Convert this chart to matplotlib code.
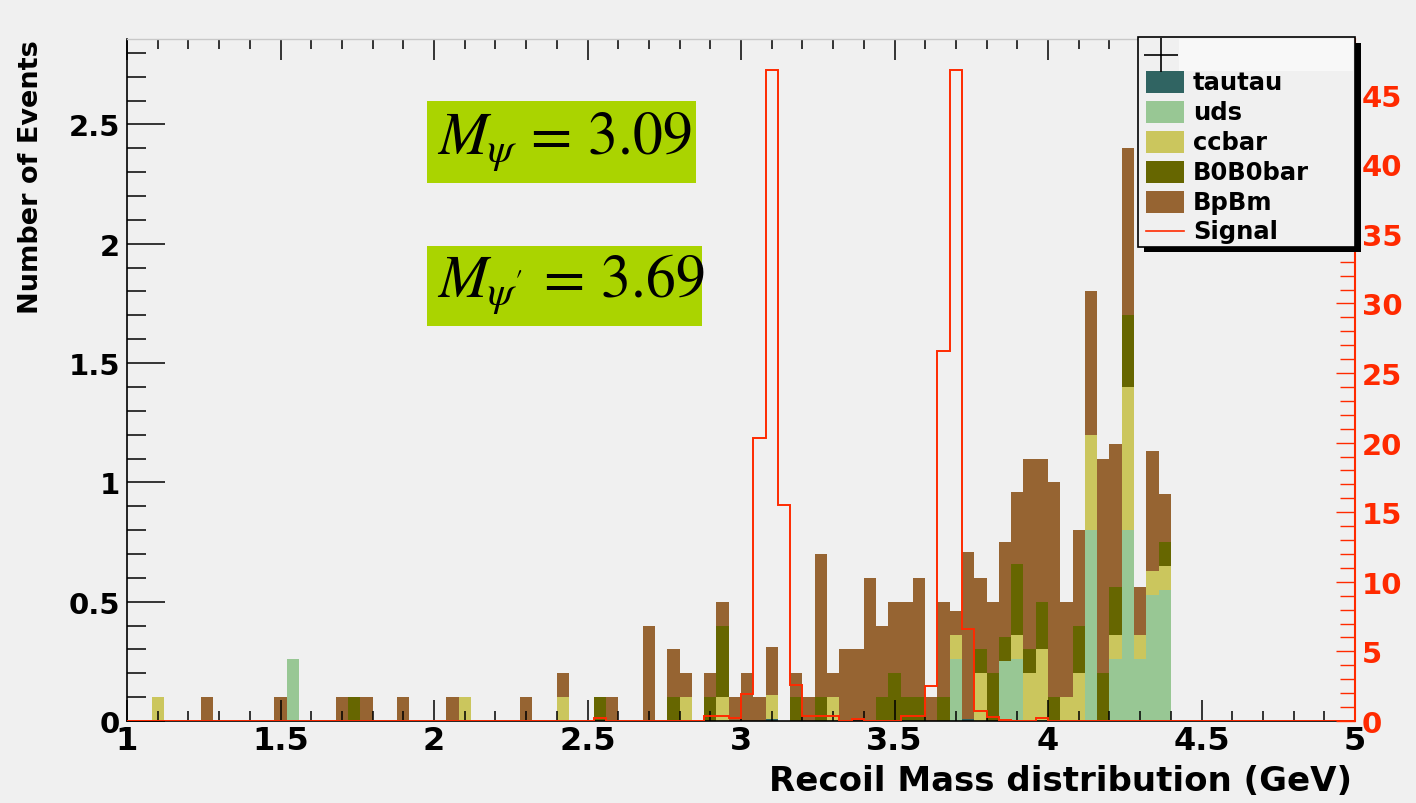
import numpy as np
import matplotlib
matplotlib.use('Agg')
import matplotlib.pyplot as plt
from matplotlib.patches import Rectangle
from matplotlib.lines import Line2D
from matplotlib.ticker import MultipleLocator, FuncFormatter

plt.rcParams['font.family'] = ['DejaVu Sans']
plt.rcParams['font.weight'] = 'bold'
plt.rcParams['mathtext.fontset'] = 'stix'

# ---------------- data ----------------
x_min, x_max, n_bins = 1.0, 5.0, 100

# left edges of background bins that have content
bkg_bins = [1.08, 1.24, 1.48, 1.52, 1.68, 1.72, 1.76, 1.88, 2.04, 2.08,
            2.28, 2.40, 2.52, 2.56, 2.68, 2.76, 2.80, 2.88, 2.92, 2.96,
            3.00, 3.04, 3.08, 3.16, 3.20, 3.24, 3.28, 3.32, 3.36, 3.40,
            3.44, 3.48, 3.52, 3.56, 3.60, 3.64, 3.68, 3.72, 3.76, 3.80,
            3.84, 3.88, 3.92, 3.96, 4.00, 4.04, 4.08, 4.12, 4.16, 4.20,
            4.24, 4.28, 4.32, 4.36]
tautau = [0, 0, 0, 0, 0, 0, 0, 0, 0, 0,
          0, 0, 0, 0, 0, 0, 0, 0, 0, 0,
          0, 0, 0.01, 0, 0, 0, 0, 0, 0, 0,
          0, 0, 0, 0, 0, 0, 0, 0.01, 0, 0,
          0, 0, 0, 0, 0, 0, 0, 0, 0, 0,
          0, 0, 0, 0]
uds = [0, 0, 0, 0.26, 0, 0, 0, 0, 0, 0,
       0, 0, 0, 0, 0, 0, 0, 0, 0, 0,
       0, 0, 0, 0, 0, 0, 0, 0, 0, 0,
       0, 0, 0, 0, 0, 0, 0.26, 0, 0, 0,
       0.25, 0.26, 0, 0, 0, 0, 0, 0.80, 0, 0.26,
       0.80, 0.26, 0.53, 0.55]
ccbar = [0.1, 0, 0, 0, 0, 0, 0, 0, 0, 0.1,
         0, 0.1, 0, 0, 0, 0, 0.1, 0, 0.1, 0,
         0, 0, 0.1, 0, 0, 0, 0.1, 0, 0, 0,
         0, 0, 0, 0, 0, 0, 0.1, 0, 0.2, 0,
         0, 0.1, 0.2, 0.3, 0, 0.1, 0.2, 0.4, 0, 0.1,
         0.6, 0.1, 0.1, 0.1]
b0b0bar = [0, 0, 0, 0, 0, 0.1, 0, 0, 0, 0,
           0, 0, 0.1, 0, 0, 0.1, 0, 0.1, 0.3, 0,
           0, 0, 0, 0.1, 0, 0.1, 0, 0, 0, 0,
           0.1, 0.2, 0.1, 0.1, 0, 0.1, 0, 0, 0.1, 0.2,
           0.1, 0.3, 0.1, 0.2, 0.1, 0, 0.2, 0, 0.2, 0.2,
           0.3, 0, 0, 0.1]
bpbm = [0, 0.1, 0.1, 0, 0.1, 0, 0.1, 0.1, 0.1, 0,
        0.1, 0.1, 0, 0.1, 0.4, 0.2, 0.1, 0.1, 0.1, 0.1,
        0.2, 0.1, 0.2, 0.1, 0.1, 0.6, 0.1, 0.3, 0.3, 0.6,
        0.3, 0.3, 0.4, 0.5, 0.1, 0.4, 0.1, 0.7, 0.3, 0.3,
        0.4, 0.3, 0.8, 0.6, 0.9, 0.4, 0.4, 0.6, 0.9, 0.6,
        0.7, 0.2, 0.5, 0.2]

# signal (right axis)
sig_bins = [2.52, 2.88, 2.92, 2.96, 3.00, 3.04, 3.08, 3.12, 3.16, 3.20,
            3.24, 3.28, 3.36, 3.52, 3.56, 3.60, 3.64, 3.68, 3.72, 3.76,
            3.80, 3.84, 3.96]
signal = [0.2, 0.34, 0.34, 0.2, 1.94, 20.3, 46.8, 15.5, 2.6, 0.34,
          0.34, 0.34, 0.15, 0.34, 0.34, 2.5, 26.6, 46.8, 6.6, 0.74,
          0.26, 0.1, 0.2]

components = ['tautau', 'uds', 'ccbar', 'B0B0bar', 'BpBm']
comp_values = [tautau, uds, ccbar, b0b0bar, bpbm]
comp_colors = ['#306462', '#98c794', '#cbc65d', '#666600', '#966432']
sig_color = '#ff2a00'
bg = '#f0f0f0'

edges = np.linspace(x_min, x_max, n_bins + 1)
bw = (x_max - x_min) / n_bins


def to_full(bins, vals):
    full = np.zeros(n_bins)
    idx = np.rint((np.array(bins) - x_min) / bw).astype(int)
    full[idx] = vals
    return full


# ---------------- figure ----------------
W, H = 1416, 804
fig = plt.figure(figsize=(W / 100, H / 100), dpi=100, facecolor=bg)


def fx(px):
    return px / W


def fy(py):
    return 1 - py / H


def frect(x0, y0, x1, y1, **kw):
    return Rectangle((fx(x0), fy(y1)), (x1 - x0) / W, (y1 - y0) / H,
                     transform=fig.transFigure, **kw)


ax_l, ax_r, ax_t, ax_b = 127.0, 1355.0, 40.0, 722.0
ax = fig.add_axes([fx(ax_l), fy(ax_b), (ax_r - ax_l) / W, (ax_b - ax_t) / H])
ax.set_facecolor(bg)

bottom = np.zeros(n_bins)
for name, vals, col in zip(components, comp_values, comp_colors):
    full = to_full(bkg_bins, vals)
    top = bottom + full
    ax.stairs(top, edges, baseline=bottom, fill=True, color=col,
              linewidth=0)
    bottom = top

ax.set_xlim(x_min, x_max)
ax.set_ylim(0, 2.858)

fmt = FuncFormatter(lambda v, p: f'{v:g}')
ax.xaxis.set_major_locator(MultipleLocator(0.5))
ax.xaxis.set_minor_locator(MultipleLocator(0.1))
ax.yaxis.set_major_locator(MultipleLocator(0.5))
ax.yaxis.set_minor_locator(MultipleLocator(0.1))
ax.xaxis.set_major_formatter(fmt)
ax.yaxis.set_major_formatter(fmt)

ax.tick_params(axis='x', which='both', direction='in', top=True, bottom=True,
               width=1.1, color='black', labelsize=23, pad=3)
ax.tick_params(axis='x', which='major', length=14.8)
ax.tick_params(axis='x', which='minor', length=7.2)
ax.tick_params(axis='y', which='both', direction='in', left=True, right=False,
               width=1.1, color='black', labelsize=21, pad=5)
ax.tick_params(axis='y', which='major', length=27)
ax.tick_params(axis='y', which='minor', length=13.5)

for s in ['left', 'bottom']:
    ax.spines[s].set_color('black')
    ax.spines[s].set_linewidth(1.2)
ax.spines['top'].set_color('#c8c8c8')
ax.spines['top'].set_linewidth(1.0)
ax.spines['right'].set_visible(False)

# signal on right axis
ax2 = ax.twinx()
ax2.stairs(to_full(sig_bins, signal), edges, baseline=0, color=sig_color,
           linewidth=1.4)
ax2.set_ylim(0, 49.0)
ax2.yaxis.set_major_locator(MultipleLocator(5))
ax2.yaxis.set_minor_locator(MultipleLocator(1))
ax2.yaxis.set_major_formatter(fmt)
ax2.tick_params(axis='y', which='both', direction='in', colors=sig_color,
                width=1.0, labelsize=21, pad=5)
ax2.tick_params(axis='y', which='major', length=14)
ax2.tick_params(axis='y', which='minor', length=11)
for s in ['left', 'top', 'bottom']:
    ax2.spines[s].set_visible(False)
ax2.spines['right'].set_color(sig_color)
ax2.spines['right'].set_linewidth(1.5)

# axis titles
fig.text(fx(31), fy(40), 'Number of Events', rotation=90, ha='center',
         va='top', fontsize=19.5, fontweight='bold')
fig.text(fx(1352), fy(791), 'Recoil Mass distribution (GeV)', ha='right',
         va='baseline', fontsize=24.5, fontweight='bold')

# annotation boxes
fig.add_artist(frect(426.7, 102.3, 696.0, 184.0, facecolor='#aad400',
                     edgecolor='none'))
fig.add_artist(frect(426.7, 246.7, 702.3, 326.7, facecolor='#aad400',
                     edgecolor='none'))
fig.text(fx(437), fy(155), r'$M_{\psi}\,=\,3.09$', ha='left', va='baseline',
         fontsize=43, color='black', fontweight='normal')
fig.text(fx(437), fy(297), r"$M_{\psi'}\,=\,3.69$", ha='left', va='baseline',
         fontsize=43, color='black', fontweight='normal')

# legend (drawn by hand, ROOT style)
fig.add_artist(frect(1144, 44, 1361, 253, facecolor='black',
                     edgecolor='none'))
fig.add_artist(frect(1138, 38, 1355, 248, facecolor=bg, edgecolor='black',
                     linewidth=1.2))
fig.add_artist(frect(1179, 40, 1353, 72, facecolor='#f8f8f8',
                     edgecolor='none'))
fig.add_artist(Line2D([fx(1161)], [fy(56)], marker='+', markersize=24,
                      markeredgewidth=1.2, color='black',
                      transform=fig.transFigure))
rows = [83.3, 113.3, 143.3, 173.3, 202.7]
for name, col, yc in zip(components, comp_colors, rows):
    fig.add_artist(frect(1146, yc - 11, 1184, yc + 11, facecolor=col,
                         edgecolor='none'))
    fig.text(fx(1193), fy(yc), name, ha='left', va='center', fontsize=17.5,
             fontweight='bold')
fig.add_artist(Line2D([fx(1146), fx(1184)], [fy(232.3), fy(232.3)],
                      color=sig_color, linewidth=1.2,
                      transform=fig.transFigure))
fig.text(fx(1193), fy(232.3), 'Signal', ha='left', va='center', fontsize=17.5,
         fontweight='bold')

# mathtext font lookup happens at draw time: use regular STIX weight there
plt.rcParams['font.weight'] = 'normal'
fig.savefig('out.png', dpi=100, facecolor=bg)
